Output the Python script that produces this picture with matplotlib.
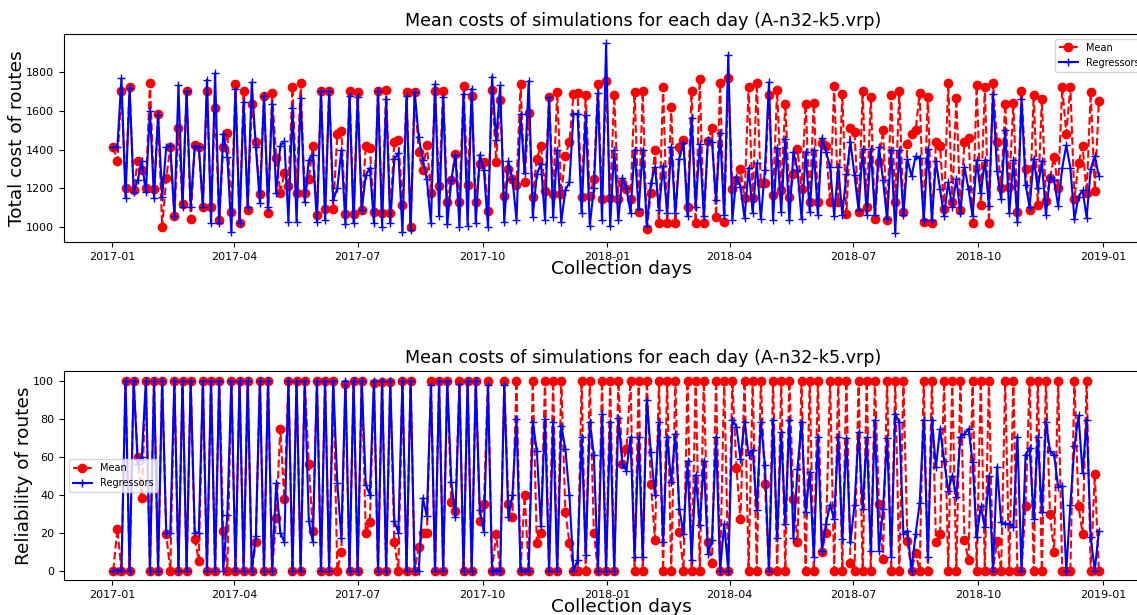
import matplotlib
matplotlib.use("Agg")
import matplotlib.pyplot as plt
import matplotlib.dates as mdates
import pandas as pd

# Collection days: one simulation batch every third day
start_day = "2017-01-02"
n_days = 243
step = "3D"

mean_cost = [
    1412, 1342, 1699, 1203, 1721, 1193, 1340, 1297, 1203, 1742,
    1197, 1584, 1000, 1255, 1412, 1058, 1513, 1120, 1699, 1043,
    1424, 1414, 1106, 1699, 1106, 1615, 1039, 1414, 1485, 1080,
    1735, 1022, 1702, 1089, 1636, 1439, 1171, 1675, 1072, 1690,
    1357, 1178, 1277, 1214, 1720, 1176, 1743, 1174, 1246, 1417,
    1065, 1699, 1094, 1699, 1094, 1480, 1494, 1068, 1699, 1067,
    1696, 1087, 1419, 1407, 1080, 1701, 1072, 1708, 1072, 1439,
    1451, 1115, 1696, 1000, 1696, 1388, 1294, 1422, 1179, 1701,
    1212, 1699, 1128, 1243, 1376, 1128, 1728, 1220, 1678, 1132,
    1328, 1335, 1084, 1708, 1335, 1653, 1161, 1299, 1251, 1217,
    1735, 1234, 1590, 1157, 1354, 1419, 1186, 1673, 1171, 1696,
    1171, 1369, 1439, 1687, 1692, 1157, 1680, 1159, 1250, 1738,
    1144, 1754, 1149, 1680, 1144, 1226, 1195, 1145, 1696, 1080,
    1699, 993, 1178, 1400, 1021, 1721, 1021, 1619, 1021, 1414,
    1448, 1103, 1699, 1021, 1761, 1021, 1444, 1513, 1055, 1742,
    1027, 1769, 1198, 1243, 1299, 1150, 1721, 1150, 1745, 1226,
    1229, 1680, 1167, 1704, 1191, 1636, 1154, 1273, 1403, 1195,
    1636, 1132, 1639, 1128, 1434, 1420, 1128, 1725, 1128, 1687,
    1067, 1513, 1489, 1080, 1699, 1103, 1673, 1043, 1337, 1502,
    1038, 1680, 1128, 1699, 1077, 1430, 1482, 1499, 1690, 1026,
    1673, 1021, 1439, 1417, 1094, 1742, 1132, 1665, 1089, 1439,
    1461, 1021, 1730, 1113, 1721, 1021, 1743, 1439, 1200, 1636,
    1205, 1641, 1080, 1701, 1299, 1091, 1682, 1115, 1661, 1135,
    1255, 1362, 1200, 1721, 1482, 1721, 1145, 1332, 1417, 1174,
    1696, 1188, 1649,
]

regressor_cost = [
    1412, 1412, 1767, 1152, 1716, 1183, 1243, 1340, 1183, 1601,
    1152, 1580, 1157, 1413, 1419, 1058, 1730, 1106, 1699, 1106,
    1419, 1414, 1106, 1759, 1024, 1793, 1024, 1482, 1362, 974,
    1713, 1022, 1644, 1106, 1747, 1414, 1126, 1675, 1103, 1636,
    1178, 1419, 1444, 1029, 1615, 1029, 1665, 1132, 1345, 1371,
    1029, 1699, 1038, 1699, 1140, 1200, 1397, 1015, 1678, 1021,
    1670, 1087, 1268, 1306, 1021, 1701, 1003, 1661, 1021, 1349,
    1383, 974, 1675, 986, 1696, 1465, 1345, 1246, 1021, 1738,
    1058, 1673, 1015, 1243, 1371, 1003, 1687, 1007, 1713, 1021,
    1374, 1294, 1003, 1776, 1448, 1730, 1029, 1340, 1251, 1038,
    1581, 1277, 1752, 1055, 1272, 1328, 1038, 1670, 1055, 1400,
    1029, 1191, 1231, 1584, 1584, 1072, 1576, 1009, 1200, 1690,
    1038, 1946, 1007, 1400, 1038, 1256, 1200, 1075, 1400, 1092,
    1400, 1007, 1226, 1311, 1089, 1316, 1072, 1414, 1072, 1354,
    1434, 1058, 1562, 1106, 1427, 1058, 1451, 1439, 1140, 1487,
    1063, 1887, 1038, 1260, 1209, 1046, 1306, 1075, 1332, 1041,
    1297, 1747, 1038, 1410, 1080, 1456, 1038, 1388, 1294, 1044,
    1388, 1080, 1400, 1063, 1461, 1390, 1311, 1060, 1311, 1063,
    1272, 1439, 1268, 1089, 1405, 1063, 1405, 1063, 1414, 1243,
    1041, 1400, 973, 1400, 1063, 1349, 1263, 1366, 1357, 1038,
    1405, 1038, 1340, 1195, 1058, 1231, 1106, 1251, 1072, 1311,
    1195, 1058, 1345, 1174, 1345, 1109, 1684, 1291, 1144, 1499,
    1072, 1345, 1029, 1661, 1220, 1103, 1354, 1200, 1340, 1063,
    1260, 1243, 1109, 1306, 1422, 1306, 1041, 1157, 1191, 1050,
    1299, 1366, 1263,
]

mean_reliability = [
    0, 22, 0, 100, 0, 100, 60, 38, 100, 0,
    100, 0, 100, 19, 0, 100, 0, 100, 0, 100,
    16.5, 5, 100, 0, 100, 0, 100, 21, 0, 100,
    0, 100, 0, 100, 0, 15, 100, 0, 100, 0,
    27.5, 74.6, 37.5, 100, 0, 100, 0, 100, 56, 21,
    100, 0, 100, 0, 100, 0, 10, 98, 0, 100,
    0, 100, 20, 25.5, 98.5, 0, 99, 0, 99, 15,
    0, 100, 0, 100, 0, 12.5, 20, 20, 100, 0,
    100, 0, 100, 36, 31.5, 100, 0, 100, 0, 100,
    26, 35, 100, 0, 19, 0, 100, 35, 28, 100,
    0, 39.5, 0, 100, 14.5, 20, 100, 0, 100, 0,
    100, 31, 14.7, 0, 0, 100, 0, 100, 20, 0,
    100, 0, 100, 0, 100, 56, 64, 100, 0, 100,
    0, 100, 45.6, 16.3, 100, 0, 100, 0, 100, 20.5,
    0, 100, 0, 100, 0, 100, 15, 4, 100, 0,
    100, 0, 100, 54, 27, 100, 0, 100, 0, 100,
    45.3, 0, 100, 0, 100, 0, 100, 37.4, 15, 100,
    0, 100, 0, 100, 10, 19.8, 100, 0, 100, 0,
    100, 4, 0, 100, 0, 100, 0, 100, 35, 6,
    100, 0, 100, 0, 100, 15.3, 0, 9.3, 0, 100,
    0, 100, 15, 19.3, 100, 0, 100, 0, 100, 15.8,
    5.3, 100, 0, 100, 0, 100, 0, 15.3, 0, 100,
    0, 100, 0, 0, 34, 100, 0, 100, 0, 100,
    29.5, 10, 100, 0, 0, 0, 100, 34, 19.3, 100,
    0, 51, 0,
]

regressor_reliability = [
    0, 0, 0, 100, 0, 100, 56, 60, 100, 0,
    100, 0, 100, 20, 20, 100, 0, 100, 0, 100,
    20, 20, 100, 0, 100, 0, 100, 0, 29, 100,
    0, 100, 0, 100, 0, 18, 100, 0, 100, 0,
    46, 20, 15, 100, 0, 100, 0, 100, 26, 15,
    100, 0, 100, 0, 100, 46, 17, 100, 0, 100,
    0, 100, 45, 40, 100, 0, 100, 0, 100, 26,
    20, 100, 0, 100, 0, 0, 38, 28.6, 97.4, 0,
    100, 0, 100, 46.5, 28, 98, 0, 100, 0, 100,
    31.6, 20.2, 97.4, 0, 0, 0, 97.4, 28, 39.5, 79.8,
    0, 0, 0, 78.4, 62.8, 23.2, 79.8, 0, 78.4, 0,
    76.3, 64, 39.5, 0, 5.3, 70.5, 8.2, 78.4, 60.9, 0,
    82.5, 0, 78.4, 0, 80.4, 56.1, 52.6, 70.2, 7, 70.5,
    7, 89.8, 62.3, 39.5, 78.4, 14.9, 70.5, 46.5, 71.9, 32.5,
    19.3, 57.4, 5.3, 50.4, 23.7, 57.9, 8.8, 15.8, 70.5, 0,
    24.6, 0, 79, 75.8, 58.8, 78.4, 60.9, 63.5, 31.9, 78.4,
    55.6, 0, 79.3, 17, 72.8, 24.6, 79.3, 17.2, 53.5, 78.4,
    30.7, 51.8, 7, 70.5, 10.5, 24.6, 34.6, 27.2, 70.2, 16.7,
    69.6, 14.9, 34.6, 72.8, 32.5, 70.2, 10.5, 79, 10.5, 32.5,
    69.6, 7, 82.5, 78.1, 19.3, 21, 0, 19.3, 35.4, 79.3,
    7, 79.3, 54.4, 74.6, 57.9, 42.1, 50, 38.6, 70.2, 71.9,
    74.6, 57, 17.5, 33.7, 22.8, 50, 0, 54.7, 25.4, 24.6,
    24.6, 22.8, 70.5, 0, 60.9, 64.6, 27.2, 70.5, 30.7, 78.4,
    62.8, 60.9, 43.9, 44.7, 0, 34.6, 65.3, 81.6, 51.2, 79.3,
    17.5, 0, 20.7,
]

days = pd.date_range(start_day, periods=n_days, freq=step)

title = "Mean costs of simulations for each day (A-n32-k5.vrp)"

fig = plt.figure(figsize=(11.37, 6.15), dpi=100)
ax1 = fig.add_axes([0.0563, 0.6065, 0.9535, 0.3382])
ax2 = fig.add_axes([0.0563, 0.0569, 0.9535, 0.3398])

panels = [
    (ax1, mean_cost, regressor_cost, "Total cost of routes", "upper right"),
    (ax2, mean_reliability, regressor_reliability, "Reliability of routes", "center left"),
]

for ax, mean_vals, reg_vals, ylabel, loc in panels:
    ax.plot(days, mean_vals, "r--o", label="Mean", markersize=6)
    ax.plot(days, reg_vals, "b-+", label="Regressors", markersize=6)
    ax.set_title(title, fontsize=12.6, x=0.534)
    ax.set_xlabel("Collection days", fontsize=13.3, labelpad=1)
    ax.xaxis.set_label_coords(0.514, -0.085)
    ax.set_ylabel(ylabel, fontsize=13.3, labelpad=0)
    ax.xaxis.set_major_locator(mdates.MonthLocator(bymonth=[1, 4, 7, 10]))
    ax.xaxis.set_major_formatter(mdates.DateFormatter("%Y-%m"))
    ax.tick_params(labelsize=8)
    ax.legend(loc=loc, fontsize=7)

fig.savefig("out.png", dpi=100)
